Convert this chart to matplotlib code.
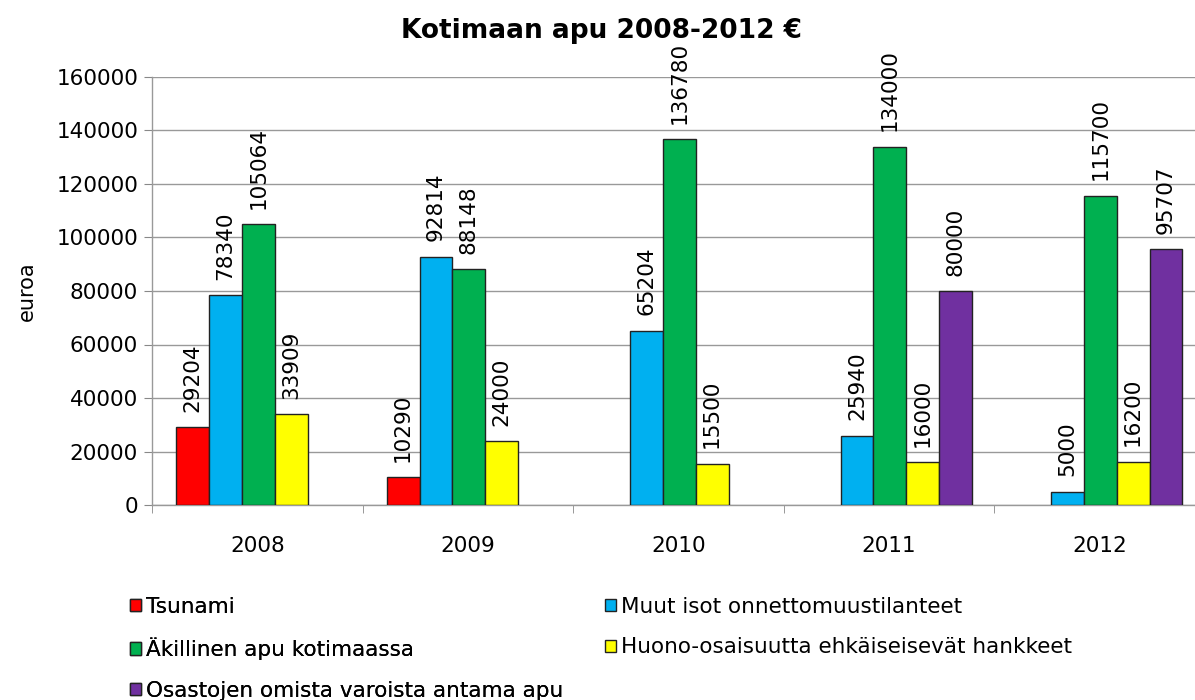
import matplotlib
matplotlib.use("Agg")
import matplotlib.pyplot as plt
import numpy as np
from matplotlib.patches import Patch

years = ["2008", "2009", "2010", "2011", "2012"]
series_names = ["Tsunami", "Muut isot onnettomuustilanteet", "Äkillinen apu kotimaassa",
                "Huono-osaisuutta ehkäiseisevät hankkeet", "Osastojen omista varoista antama apu"]
tsunami = [29204, 10290, None, None, None]
muut = [78340, 92814, 65204, 25940, 5000]
akillinen = [105064, 88148, 136780, 134000, 115700]
huono = [33909, 24000, 15500, 16000, 16200]
osastojen = [None, None, None, 80000, 95707]
colors = ["#FF0000", "#00B0F0", "#00B050", "#FFFF00", "#7030A0"]

plt.rcParams['font.family'] = ['DejaVu Sans']
fig = plt.figure(figsize=(11.95, 7.0), dpi=100)
L, R, B, T = 152/1195, 1204.5/1195, 1-505/700, 1-77/700
ax = fig.add_axes([L, B, R-L, T-B])

all_series = [tsunami, muut, akillinen, huono, osastojen]
w = 0.156
x0 = np.arange(len(years)) + 0.5
handles = []
for j, (vals, col, name) in enumerate(zip(all_series, colors, series_names)):
    xs = x0 + (j - 2) * w + 0.005
    for xi, v in zip(xs, vals):
        if v is None:
            continue
        ax.bar(xi, v, width=w, color=col, edgecolor="#222222", linewidth=1.0, zorder=3)
        ax.annotate(f"{v}", (xi, v), xytext=(0, 11), textcoords="offset points",
                    rotation=90, ha="center", va="bottom", fontsize=15.5, color="black")
    handles.append(Patch(facecolor=col, edgecolor="#222222", linewidth=1.0, label=name))

ax.set_xlim(0, 5)
ax.set_ylim(0, 160000)
ax.set_yticks(np.arange(0, 160001, 20000))
ax.set_yticklabels([str(v) for v in range(0, 160001, 20000)], fontsize=15.5)
ax.set_xticks(x0)
ax.set_xticklabels(years, fontsize=15.5)
ax.set_xticks(np.arange(0, 6), minor=True)
ax.tick_params(axis='x', which='major', length=0, pad=22)
ax.tick_params(axis='x', which='minor', length=6, color="#888888", direction='out')
ax.tick_params(axis='y', length=6, color="#888888", direction='out', pad=4)
ax.grid(axis='y', color="#999999", linewidth=1.0, zorder=0)
for s in ["top", "right"]:
    ax.spines[s].set_visible(False)
for s in ["left", "bottom"]:
    ax.spines[s].set_color("#999999")
    ax.spines[s].set_linewidth(1.0)
ax.set_ylabel("euroa", fontsize=15, labelpad=14)

fig.text(0.503, 1-31/700, "Kotimaan apu 2008-2012 €", ha="center", va="center",
         fontsize=19, fontweight="bold")

kw = dict(loc="upper left", frameon=False, fontsize=15.5,
          handlelength=0.5, handleheight=0.5, handletextpad=0.25, labelspacing=0.95,
          borderpad=0, borderaxespad=0)
leg1 = fig.legend(handles=[handles[0], handles[2], handles[4]],
                  bbox_to_anchor=(130/1195, 1-597/700), **kw)
leg2 = fig.legend(handles=[handles[1], handles[3]],
                  bbox_to_anchor=(605/1195, 1-597/700), **kw)
fig.add_artist(leg1)

fig.savefig("out.png", dpi=100)
